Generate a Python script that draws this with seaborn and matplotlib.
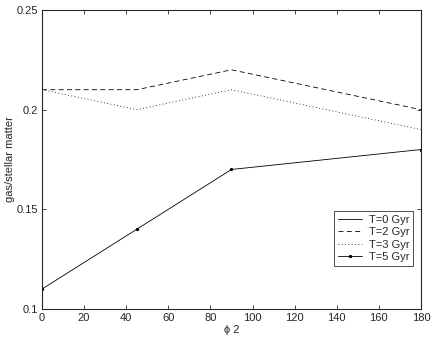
import numpy as np
import pandas as pd
import matplotlib
matplotlib.use("Agg")
import matplotlib.pyplot as plt
import seaborn as sns

# data
phi2 = [0, 45, 90, 180]
t0_gyr = [0.25, 0.25, 0.25, 0.25]
t2_gyr = [0.21, 0.21, 0.22, 0.20]
t3_gyr = [0.21, 0.20, 0.21, 0.19]
t5_gyr = [0.11, 0.14, 0.17, 0.18]

labels = ["T=0 Gyr", "T=2 Gyr", "T=3 Gyr", "T=5 Gyr"]
series = [t0_gyr, t2_gyr, t3_gyr, t5_gyr]

sns.set_style("ticks")
plt.rcParams["font.family"] = ["Liberation Sans", "DejaVu Sans"]

fig = plt.figure(figsize=(4.36, 3.42), dpi=100)
ax = fig.add_axes([0.0963, 0.0965, 0.8693, 0.8743])

styles = [
    dict(linestyle="-", marker=None),
    dict(linestyle=(0, (6, 4)), marker=None),
    dict(linestyle=(0, (1, 3)), marker=None),
    dict(linestyle="-", marker="o", markersize=1.6,
         markeredgecolor="black", markerfacecolor="black"),
]

for lab, vals, st in zip(labels, series, styles):
    df = pd.DataFrame({"phi2": phi2, "ratio": vals})
    sns.lineplot(data=df, x="phi2", y="ratio", ax=ax, color="black",
                 linewidth=0.6, label=lab, **st)

ax.set_xlim(0, 180)
ax.set_ylim(0.1, 0.25)
ax.set_xticks(np.arange(0, 181, 20))
ax.set_yticks([0.1, 0.15, 0.2, 0.25])
ax.set_yticklabels(["0.1", "0.15", "0.2", "0.25"])
ax.tick_params(direction="in", top=True, right=True, labelsize=8,
               length=3, width=0.6, pad=3)
for sp in ax.spines.values():
    sp.set_linewidth(0.8)
    sp.set_visible(True)

ax.set_xlabel("\u03d5 2", fontsize=8, labelpad=1)
ax.set_ylabel("gas/stellar matter", fontsize=8, labelpad=1)

leg = ax.legend(loc="lower right", bbox_to_anchor=(0.98, 0.145), fontsize=8,
                frameon=True, fancybox=False, edgecolor="black",
                handlelength=2.2, borderpad=0.35, labelspacing=0.2,
                handletextpad=0.6, borderaxespad=0)
leg.get_frame().set_linewidth(0.6)

fig.savefig("out.png", dpi=100)
